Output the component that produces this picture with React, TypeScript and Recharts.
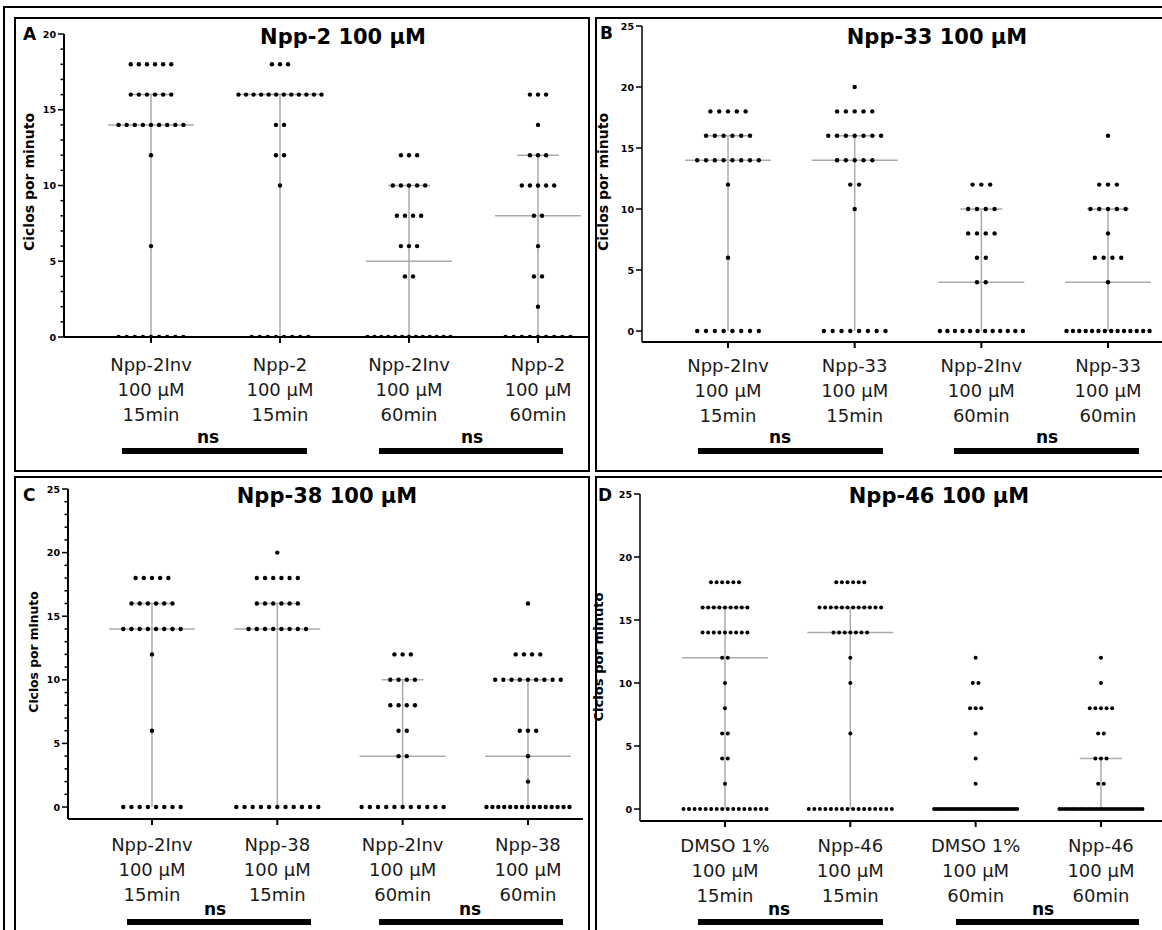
import { ScatterChart, Scatter, XAxis, YAxis, ReferenceLine } from "recharts";

// value levels used by every group (cycles per minute)
const LEVELS = [0, 2, 4, 6, 8, 10, 12, 14, 16, 18, 20];
const DOSE = "100 µM";
const TIMES = ["15min", "15min", "60min", "60min"];

// A — Npp-2: dot counts per level, one row per group
const namesA = ["Npp-2Inv", "Npp-2", "Npp-2Inv", "Npp-2"];
const countsA = [
  [9, 0, 0, 1, 0, 0, 1, 9, 6, 6, 0],
  [8, 0, 0, 0, 0, 1, 2, 2, 12, 3, 0],
  [13, 0, 2, 3, 4, 5, 3, 0, 0, 0, 0],
  [9, 1, 2, 1, 2, 5, 3, 1, 3, 0, 0],
];
const mediansA = [14, 16, 5, 8];
const q3A = [16, 16, 10, 12];

// B — Npp-33
const namesB = ["Npp-2Inv", "Npp-33", "Npp-2Inv", "Npp-33"];
const countsB = [
  [8, 0, 0, 1, 0, 0, 1, 8, 6, 5, 0],
  [8, 0, 0, 0, 0, 1, 2, 5, 7, 5, 1],
  [12, 0, 2, 2, 4, 4, 3, 0, 0, 0, 0],
  [14, 0, 1, 4, 1, 5, 3, 0, 1, 0, 0],
];
const mediansB = [14, 14, 4, 4];
const q3B = [16, 16, 10, 10];

// C — Npp-38
const namesC = ["Npp-2Inv", "Npp-38", "Npp-2Inv", "Npp-38"];
const countsC = [
  [8, 0, 0, 1, 0, 0, 1, 8, 6, 5, 0],
  [11, 0, 0, 0, 0, 0, 0, 8, 6, 6, 1],
  [11, 0, 2, 2, 4, 4, 3, 0, 0, 0, 0],
  [15, 1, 1, 3, 0, 9, 4, 0, 1, 0, 0],
];
const mediansC = [14, 14, 4, 4];
const q3C = [16, 16, 10, 10];

// D — Npp-46
const namesD = ["DMSO 1%", "Npp-46", "DMSO 1%", "Npp-46"];
const countsD = [
  [16, 1, 2, 2, 1, 1, 2, 9, 9, 6, 0],
  [16, 0, 0, 1, 0, 1, 1, 7, 12, 6, 0],
  [35, 1, 1, 1, 3, 2, 1, 0, 0, 0, 0],
  [32, 2, 3, 2, 5, 1, 1, 0, 0, 0, 0],
];
const mediansD = [12, 14, 0, 0];
const q3D = [16, 16, 0, 4];

const Q1 = 0;
const FONT = "DejaVu Sans, Verdana, sans-serif";
const YW = 60;
const MT = 10;
const XH = 110;
const MAX_ROW = 83;
const MED_HALF = 43;
const CAP_HALF = 21;
const GREY = "#ababab";

const everyUnit = (max: number) => Array.from({ length: max + 1 }, (_, i) => i);
const everyFive = [0, 5, 10, 15, 20, 25];

const panels = [
  {
    letter: "A", letterXY: [23, 40], title: "Npp-2 100 µM", titleXY: [343, 44],
    names: namesA, counts: countsA, medians: mediansA, q3: q3A,
    axisX: 64, axisTop: 34, axisRight: 588, axisBottom: 337,
    xDomain: [0.3256, 4.3876], yDomain: [0, 20], yTicks: everyUnit(20),
    spacing: 8.1, r: 2.2, labelY: 34, yTitle: [29, 182, 14],
    ns: [[208, 443], [472, 443]], bars: [[122, 307, 448], [379, 563, 448]],
  },
  {
    letter: "B", letterXY: [600, 39], title: "Npp-33 100 µM", titleXY: [937, 44],
    names: namesB, counts: countsB, medians: mediansB, q3: q3B,
    axisX: 642, axisTop: 26, axisRight: 1162, axisBottom: 342,
    xDomain: [0.321, 4.426], yDomain: [-0.9, 25], yTicks: everyFive,
    spacing: 8.8, r: 2.2, labelY: 30, yTitle: [603, 182, 14],
    ns: [[780, 443], [1047, 443]], bars: [[698, 883, 448], [954, 1139, 448]],
  },
  {
    letter: "C", letterXY: [23, 501], title: "Npp-38 100 µM", titleXY: [327, 503],
    names: namesC, counts: countsC, medians: mediansC, q3: q3C,
    axisX: 68, axisTop: 489, axisRight: 583, axisBottom: 819,
    xDomain: [0.33, 4.439], yDomain: [-0.94, 25], yTicks: everyUnit(25),
    spacing: 8.2, r: 2.2, labelY: 32, yTitle: [34, 652, 12.3],
    ns: [[215, 915], [470, 915]], bars: [[127, 311, 919], [379, 563, 919]],
  },
  {
    letter: "D", letterXY: [598, 501], title: "Npp-46 100 µM", titleXY: [939, 503],
    names: namesD, counts: countsD, medians: mediansD, q3: q3D,
    axisX: 640, axisTop: 494, axisRight: 1162, axisBottom: 821,
    xDomain: [0.322, 4.487], yDomain: [-0.95, 25], yTicks: everyFive,
    spacing: 5.6, r: 2.0, labelY: 31, yTitle: [598, 657, 13.1],
    ns: [[779, 915], [1043, 915]], bars: [[698, 883, 919], [956, 1139, 919]],
  },
];

// beeswarm rows: each level's dots spread sideways around the group centre
function buildDots(counts: number[][], spacing: number) {
  const pts: { x: number; y: number; off: number }[] = [];
  counts.forEach((row, g) => {
    row.forEach((n, li) => {
      if (!n) return;
      const step = n > 1 ? Math.min(spacing, MAX_ROW / (n - 1)) : 0;
      for (let k = 0; k < n; k++) {
        pts.push({ x: g + 1, y: LEVELS[li], off: (k - (n - 1) / 2) * step });
      }
    });
  });
  return pts;
}

function Panel({ p }: { p: (typeof panels)[number] }) {
  const plotW = p.axisRight - p.axisX;
  const plotH = p.axisBottom - p.axisTop;
  const ppu = plotW / (p.xDomain[1] - p.xDomain[0]);
  const dots = buildDots(p.counts, p.spacing);
  const minor = p.yTicks.length > 6;

  const xTick = (t: any) => {
    const i = Math.round(t.payload.value) - 1;
    const lines = [p.names[i], DOSE, TIMES[i]];
    return (
      <g>
        <line x1={t.x} x2={t.x} y1={t.y} y2={t.y + 6} stroke="#000" strokeWidth={2} />
        {lines.map((s, k) => (
          <text key={k} x={t.x} y={t.y + p.labelY + k * 25} textAnchor="middle" fontSize={18} fontFamily={FONT} fill="#1a1a1a">
            {s}
          </text>
        ))}
      </g>
    );
  };

  const yTick = (t: any) => {
    const v = t.payload.value;
    const major = v % 5 === 0;
    const len = major ? 6 : 3.5;
    return (
      <g>
        <line x1={t.x - len} x2={t.x} y1={t.y} y2={t.y} stroke="#000" strokeWidth={1.5} />
        {major && (
          <text x={t.x - len - 2} y={t.y} dy={3.5} textAnchor="end" fontSize={9.5} fontWeight="bold" fontFamily={FONT} fill="#000">
            {v}
          </text>
        )}
      </g>
    );
  };

  const seg = (g: number, half: number, y: number) => [
    { x: g + 1 - half / ppu, y },
    { x: g + 1 + half / ppu, y },
  ];

  return (
    <div style={{ position: "absolute", left: p.axisX - YW, top: p.axisTop - MT }}>
      <ScatterChart width={YW + plotW} height={MT + plotH + XH} margin={{ top: MT, right: 0, bottom: 0, left: 0 }}>
        <XAxis
          type="number"
          dataKey="x"
          domain={p.xDomain}
          ticks={[1, 2, 3, 4]}
          interval={0}
          allowDataOverflow
          height={XH}
          tickSize={0}
          tickMargin={0}
          tickLine={false}
          axisLine={{ stroke: "#000", strokeWidth: 2 }}
          tick={xTick}
        />
        <YAxis
          type="number"
          dataKey="y"
          domain={p.yDomain}
          ticks={p.yTicks}
          interval={0}
          allowDataOverflow
          width={YW}
          tickSize={0}
          tickMargin={0}
          tickLine={false}
          axisLine={{ stroke: "#000", strokeWidth: minor ? 2 : 1.5 }}
          tick={yTick}
        />
        <Scatter
          data={dots}
          isAnimationActive={false}
          shape={(s: any) => <circle cx={s.cx + s.payload.off} cy={s.cy} r={p.r} fill="#000" />}
        />
        {p.medians.map((m, g) => (
          <ReferenceLine key={"v" + g} segment={[{ x: g + 1, y: Q1 }, { x: g + 1, y: p.q3[g] }]} stroke={GREY} strokeWidth={1.5} />
        ))}
        {p.medians.map((m, g) => (
          <ReferenceLine key={"m" + g} segment={seg(g, MED_HALF, m)} stroke={GREY} strokeWidth={1.5} />
        ))}
        {p.q3.map((q, g) => (
          <ReferenceLine key={"c" + g} segment={seg(g, CAP_HALF, q)} stroke={GREY} strokeWidth={1.5} />
        ))}
      </ScatterChart>
    </div>
  );
}

export default function App() {
  return (
    <div style={{ position: "absolute", left: 0, top: 0, width: 1162, height: 930, background: "#fff", overflow: "hidden" }}>
      {panels.map((p) => (
        <Panel key={p.letter} p={p} />
      ))}
      <svg width={1162} height={930} style={{ position: "absolute", left: 0, top: 0, pointerEvents: "none" }}>
        <g fill="none" stroke="#000" strokeWidth={2}>
          <polyline points="4,935 4,7 1170,7" />
          <rect x={15} y={18} width={574} height={453} />
          <rect x={596} y={18} width={580} height={453} />
          <rect x={15} y={477} width={574} height={460} />
          <rect x={596} y={477} width={580} height={460} />
        </g>
        {panels.map((p) => (
          <g key={p.letter} fontFamily={FONT} fontWeight="bold" fill="#000">
            <text x={p.letterXY[0]} y={p.letterXY[1]} fontSize={17}>{p.letter}</text>
            <text x={p.titleXY[0]} y={p.titleXY[1]} fontSize={21} textAnchor="middle">{p.title}</text>
            <text
              x={p.yTitle[0]}
              y={p.yTitle[1]}
              fontSize={p.yTitle[2]}
              textAnchor="middle"
              dominantBaseline="central"
              transform={`rotate(-90 ${p.yTitle[0]} ${p.yTitle[1]})`}
            >
              Ciclos por minuto
            </text>
            {p.ns.map(([x, y], k) => (
              <text key={"n" + k} x={x} y={y} fontSize={17} textAnchor="middle">ns</text>
            ))}
            {p.bars.map(([x1, x2, y], k) => (
              <rect key={"b" + k} x={x1} y={y} width={x2 - x1} height={6} />
            ))}
          </g>
        ))}
      </svg>
    </div>
  );
}
